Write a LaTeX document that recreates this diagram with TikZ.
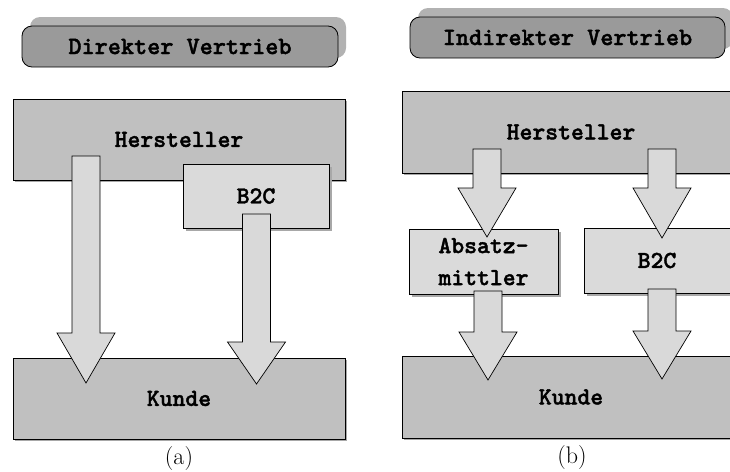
\documentclass[tikz,border=0pt]{standalone}
\usepackage{fontspec}
\newfontfamily\labfont[FakeBold=1.6]{lmmonolt10-bold.otf}
\usetikzlibrary{shadows}
\definecolor{boxdark}{HTML}{C0C0C0}
\definecolor{boxlight}{HTML}{DADADA}
\definecolor{arrowfill}{HTML}{D9D9D9}
\definecolor{pillfill}{HTML}{9A9A9A}
\definecolor{pillshadow}{HTML}{B2B2B2}
\definecolor{boxshadow}{HTML}{A8A8A8}
\tikzset{
  base/.style={draw=black, line width=0.8pt, inner sep=0pt, align=center,
    font=\labfont\fontsize{24.5}{32}\selectfont},
  darkbox/.style={base, fill=boxdark,
    drop shadow={shadow xshift=2pt, shadow yshift=-2pt, fill=boxshadow, opacity=1}},
  lightbox/.style={base, fill=boxlight,
    drop shadow={shadow xshift=3pt, shadow yshift=-3pt, fill=boxshadow, opacity=1}},
  pill/.style={base, fill=pillfill, rounded corners=10pt,
    font=\labfont\fontsize{25}{32}\selectfont,
    drop shadow={shadow xshift=8pt, shadow yshift=9pt, fill=pillshadow, opacity=1}},
  blockarrowstyle/.style={draw=black, line width=0.7pt, fill=arrowfill, line join=miter},
  caption/.style={inner sep=0pt, font=\fontsize{24}{28}\selectfont}
}
% x, y top, y head base, y tip
\newcommand\blockarrow[4]{%
  \draw[blockarrowstyle] (#1-14,#2) -- (#1+14,#2) -- (#1+14,#3) -- (#1+29,#3)
    -- (#1,#4) -- (#1-29,#3) -- (#1-14,#3) -- cycle;}
\begin{document}
\begin{tikzpicture}[x=1pt,y=-1pt]
\useasboundingbox (0,0) rectangle (730,471);
\clip (0,0) rectangle (730,471);

% ---------- (a) Direkter Vertrieb ----------
\node[pill, minimum width=316pt, minimum height=41pt] (ta) at (180,46.5) {\raisebox{-1pt}{Direkter Vertrieb}};
\node[darkbox, minimum width=332pt, minimum height=81pt] (ha) at (179,139.5) {\raisebox{-4pt}{Hersteller}};
\node[darkbox, minimum width=332pt, minimum height=81pt] (ka) at (179,398.5) {\raisebox{-3pt}{Kunde}};
\node[lightbox, minimum width=146pt, minimum height=64pt] (ba) at (256,196) {\raisebox{-2pt}{B2C}};
\blockarrow{86}{156}{333}{383}
\blockarrow{256.5}{214}{342}{384}
\node[caption] (ca) at (179,459) {(a)};

% ---------- (b) Indirekter Vertrieb ----------
\node[pill, minimum width=315pt, minimum height=41pt] (tb) at (567.5,37.5) {Indirekter Vertrieb};
\node[darkbox, minimum width=338pt, minimum height=82pt] (hb) at (571,132) {\raisebox{-3pt}{Hersteller}};
\node[darkbox, minimum width=338pt, minimum height=82pt] (kb) at (571,397) {\raisebox{-1pt}{Kunde}};
\node[lightbox, minimum width=149pt, minimum height=65pt] (am) at (483.5,261.5) {Absatz-\\mittler};
\node[lightbox, minimum width=146pt, minimum height=65pt] (bb) at (657,260.5) {\raisebox{-2pt}{B2C}};
\blockarrow{487}{149}{188}{237}
\blockarrow{662}{149}{188}{238}
\blockarrow{488}{291}{332}{380}
\blockarrow{662}{289}{331}{379}
\node[caption] (cb) at (572,458) {(b)};
\end{tikzpicture}
\end{document}
